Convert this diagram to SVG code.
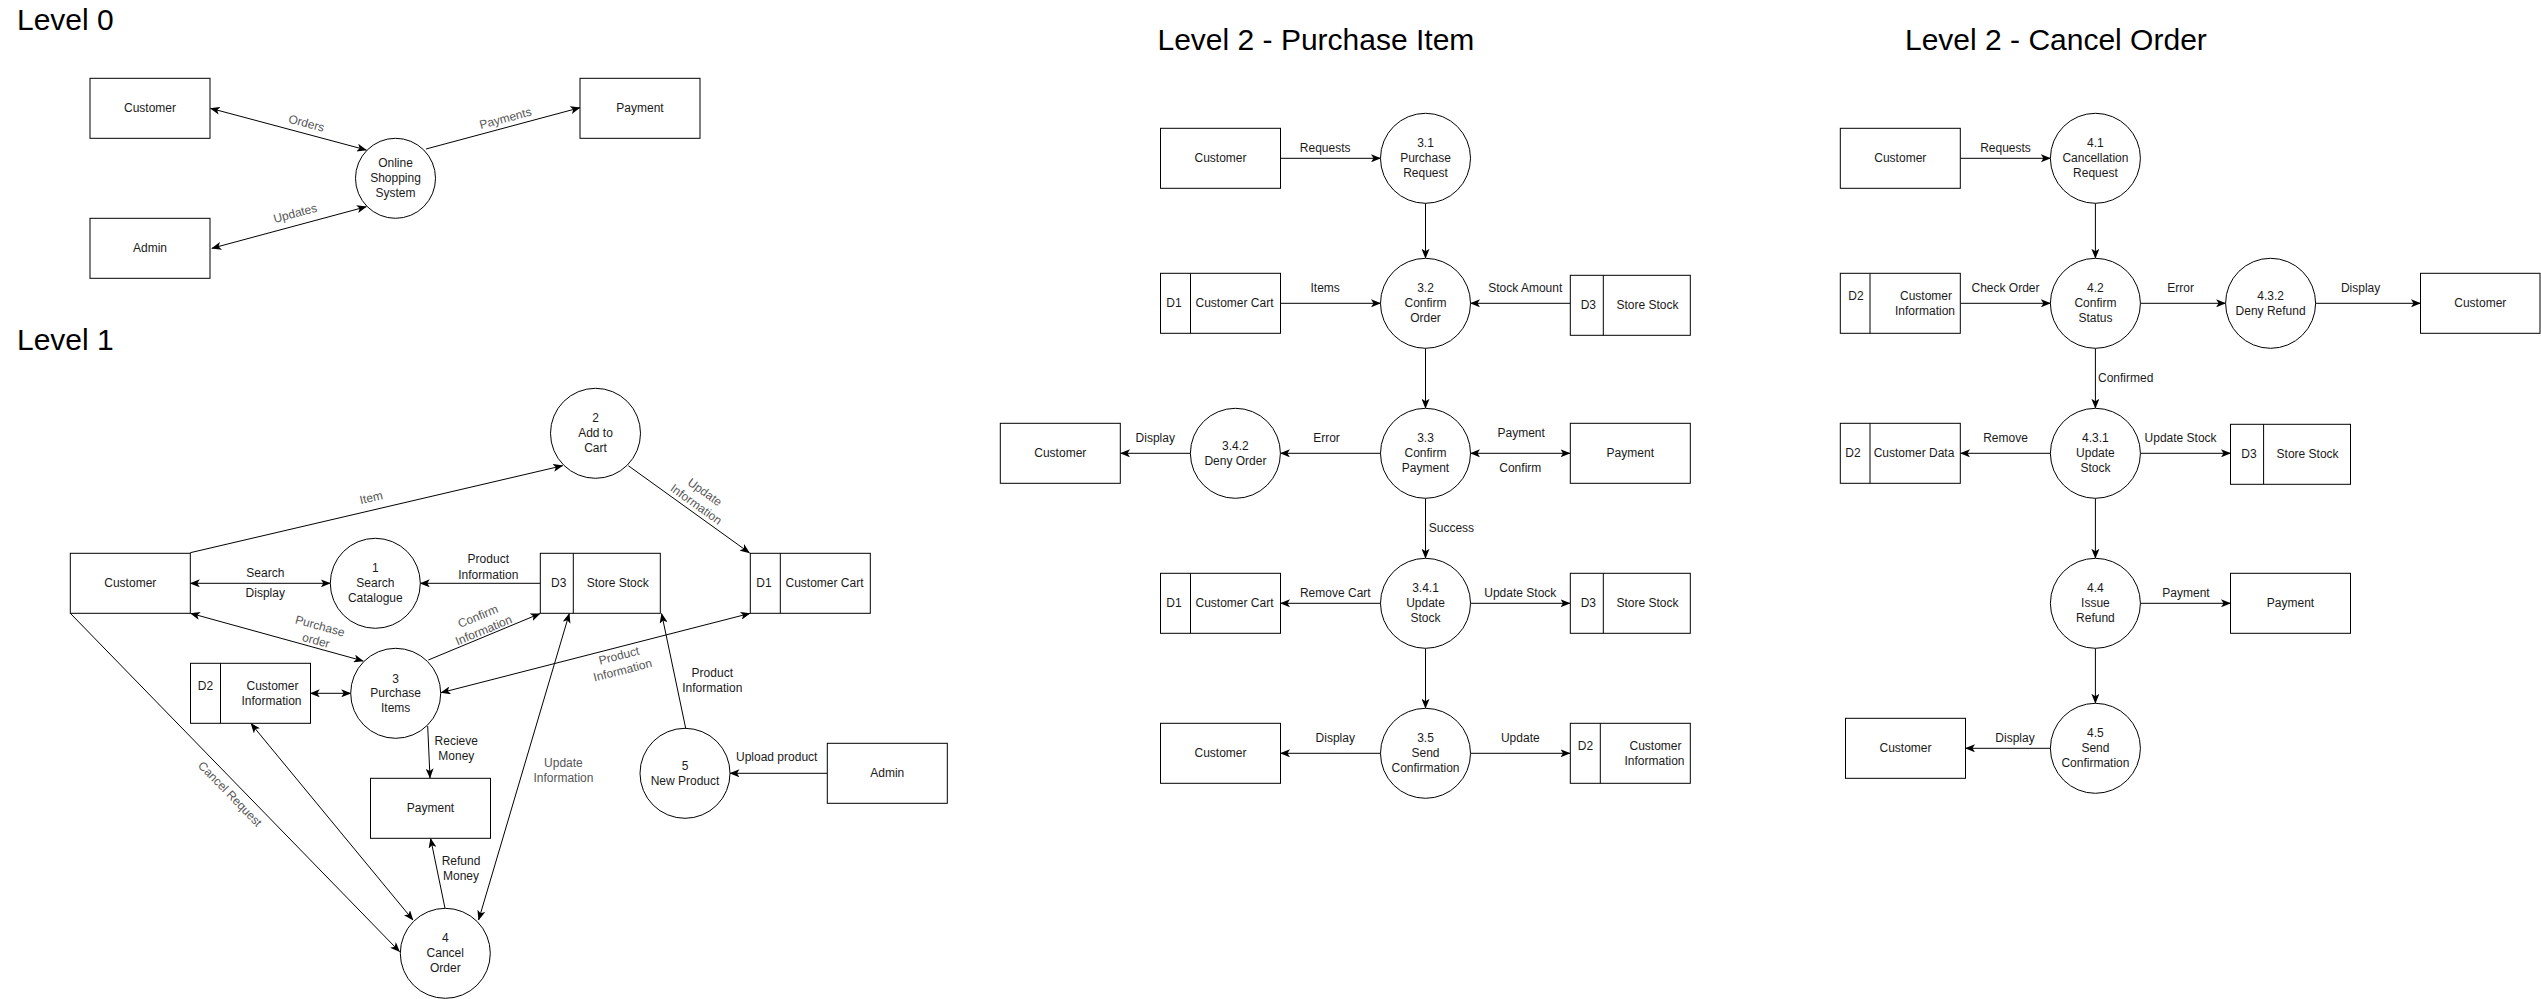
<svg xmlns="http://www.w3.org/2000/svg" width="2541" height="999" viewBox="0 0 2541 999">
<style>
.bg{fill:#fff}
.box{fill:#fff;stroke:#000;stroke-width:1}
.div{stroke:#000;stroke-width:1;fill:none}
.t{font-family:"Liberation Sans",Arial,sans-serif;font-size:12px;fill:#1a1a1a;text-anchor:middle;dominant-baseline:central}
.lb{font-family:"Liberation Sans",Arial,sans-serif;font-size:12px;fill:#1a1a1a;text-anchor:middle;dominant-baseline:central}
.gr{fill:#555}
.title{font-family:"Liberation Sans",Arial,sans-serif;font-size:30px;fill:#000}
.c{stroke:#000;stroke-width:1;fill:none;marker-end:url(#arr)}
.cd{stroke:#000;stroke-width:1;fill:none;marker-end:url(#arr);marker-start:url(#arr)}
.cn{stroke:#000;stroke-width:1;fill:none}
</style>
<defs>
<marker id="arr" viewBox="0 0 10 8" refX="9.5" refY="4" markerWidth="10" markerHeight="8" markerUnits="userSpaceOnUse" orient="auto-start-reverse">
<path d="M0,0 L10,4 L0,8 L2.5,4 Z" fill="#000"/>
</marker>
</defs>
<rect class="bg" x="0" y="0" width="2541" height="999"/>

<text class="title" x="17" y="29.5">Level 0</text>
<text class="title" x="17" y="349.5">Level 1</text>
<text class="title" x="1157.5" y="49.5">Level 2 - Purchase Item</text>
<text class="title" x="1905" y="49.5">Level 2 - Cancel Order</text>

<g id="connectors">
<!-- Level 0 -->
<line class="cd" x1="210.4" y1="108.3" x2="366.4" y2="150"/>
<line class="c" x1="426" y1="149" x2="580" y2="107.7"/>
<line class="cd" x1="211.8" y1="248.3" x2="366.4" y2="206.7"/>
<text class="lb gr" transform="translate(306.5,123.3) rotate(15)">Orders</text>
<text class="lb gr" transform="translate(505.5,118.3) rotate(-15)">Payments</text>
<text class="lb gr" transform="translate(295.2,213.3) rotate(-15)">Updates</text>

<!-- Level 1 -->
<line class="c" x1="190.3" y1="552.7" x2="562.7" y2="465.7"/>
<text class="lb gr" transform="translate(371.3,497.7) rotate(-13.2)">Item</text>
<line class="c" x1="628.3" y1="465.7" x2="749.5" y2="552.9"/>
<text class="lb gr" transform="translate(700.5,498.3) rotate(35.7)"><tspan x="0" y="-7.5">Update</tspan><tspan x="0" y="7.5">Information</tspan></text>
<line class="cd" x1="190.3" y1="583.3" x2="330.3" y2="583.3"/>
<text class="lb" x="265.3" y="572.7">Search</text>
<text class="lb" x="265.3" y="592.7">Display</text>
<line class="c" x1="540.3" y1="583.3" x2="420.3" y2="583.3"/>
<text class="lb" x="488.3" y="559.3">Product</text>
<text class="lb" x="488.3" y="574.7">Information</text>
<line class="cd" x1="190.5" y1="613.3" x2="363.3" y2="661"/>
<text class="lb gr" transform="translate(318,633.3) rotate(15.4)"><tspan x="0" y="-7.5">Purchase</tspan><tspan x="0" y="7.5">order</tspan></text>
<line class="c" x1="428.3" y1="660" x2="540" y2="613.6"/>
<text class="lb gr" transform="translate(480.8,623.3) rotate(-22.5)"><tspan x="0" y="-7.5">Confirm</tspan><tspan x="0" y="7.5">Information</tspan></text>
<line class="cd" x1="441" y1="692.7" x2="750" y2="613.4"/>
<text class="lb gr" transform="translate(620.8,663) rotate(-14.4)"><tspan x="0" y="-7.5">Product</tspan><tspan x="0" y="7.5">Information</tspan></text>
<line class="cd" x1="310.3" y1="693.3" x2="350.7" y2="693.3"/>
<line class="c" x1="427.7" y1="726" x2="430" y2="778"/>
<text class="lb" x="456.3" y="740.7">Recieve</text>
<text class="lb" x="456.3" y="756">Money</text>
<line class="c" x1="445" y1="908.3" x2="430.6" y2="838.5"/>
<text class="lb" x="461" y="860.7">Refund</text>
<text class="lb" x="461" y="875.7">Money</text>
<line class="c" x1="70.3" y1="613.3" x2="399.6" y2="951.7"/>
<text class="lb gr" transform="translate(230,794) rotate(45.8)">Cancel Request</text>
<line class="cd" x1="250.9" y1="723.5" x2="413" y2="920"/>
<line class="cd" x1="569.3" y1="613.6" x2="478.6" y2="920"/>
<text class="lb gr" x="563.4" y="763.3">Update</text>
<text class="lb gr" x="563.4" y="778.3">Information</text>
<line class="c" x1="685.7" y1="728.3" x2="661.6" y2="613.6"/>
<text class="lb" x="712.3" y="673.3">Product</text>
<text class="lb" x="712.3" y="688.3">Information</text>
<line class="c" x1="827.3" y1="773.3" x2="730" y2="773.3"/>
<text class="lb" x="776.7" y="757.3">Upload product</text>

<!-- Level 2 Purchase -->
<line class="c" x1="1280.5" y1="158.3" x2="1380.5" y2="158.3"/>
<text class="lb" x="1325.2" y="147.7">Requests</text>
<line class="c" x1="1425.5" y1="203.3" x2="1425.5" y2="258.3"/>
<line class="c" x1="1280.5" y1="303.3" x2="1380.5" y2="303.3"/>
<text class="lb" x="1325.2" y="287.7">Items</text>
<line class="c" x1="1570" y1="303.3" x2="1470.5" y2="303.3"/>
<text class="lb" x="1525.3" y="287.7">Stock Amount</text>
<line class="c" x1="1425.5" y1="348.3" x2="1425.5" y2="408.3"/>
<line class="c" x1="1380.5" y1="453.3" x2="1280.4" y2="453.3"/>
<text class="lb" x="1326.5" y="437.7">Error</text>
<line class="c" x1="1190.4" y1="453.3" x2="1120.5" y2="453.3"/>
<text class="lb" x="1155.3" y="437.7">Display</text>
<line class="cd" x1="1470.5" y1="453.3" x2="1570" y2="453.3"/>
<text class="lb" x="1521.2" y="432.7">Payment</text>
<text class="lb" x="1520.3" y="467.7">Confirm</text>
<line class="c" x1="1425.5" y1="498.3" x2="1425.5" y2="558.3"/>
<text class="lb" x="1451.4" y="527.7">Success</text>
<line class="c" x1="1380.5" y1="603.3" x2="1280.5" y2="603.3"/>
<text class="lb" x="1335.3" y="592.7">Remove Cart</text>
<line class="c" x1="1470.5" y1="603.3" x2="1570" y2="603.3"/>
<text class="lb" x="1520.3" y="592.7">Update Stock</text>
<line class="c" x1="1425.5" y1="648.3" x2="1425.5" y2="708.3"/>
<line class="c" x1="1380.5" y1="753.3" x2="1280.5" y2="753.3"/>
<text class="lb" x="1335.3" y="737.7">Display</text>
<line class="c" x1="1470.5" y1="753.3" x2="1570" y2="753.3"/>
<text class="lb" x="1520.3" y="737.7">Update</text>

<!-- Level 2 Cancel -->
<line class="c" x1="1960.5" y1="158.3" x2="2050.4" y2="158.3"/>
<text class="lb" x="2005.5" y="147.7">Requests</text>
<line class="c" x1="2095.4" y1="203.3" x2="2095.4" y2="258.3"/>
<line class="c" x1="1960.5" y1="303.3" x2="2050.4" y2="303.3"/>
<text class="lb" x="2005.5" y="287.7">Check Order</text>
<line class="c" x1="2140.4" y1="303.3" x2="2225.6" y2="303.3"/>
<text class="lb" x="2180.6" y="287.7">Error</text>
<line class="c" x1="2315.6" y1="303.3" x2="2420.5" y2="303.3"/>
<text class="lb" x="2360.6" y="287.7">Display</text>
<line class="c" x1="2095.4" y1="348.3" x2="2095.4" y2="408.3"/>
<text class="lb" x="2125.7" y="377.7">Confirmed</text>
<line class="c" x1="2050.4" y1="453.3" x2="1960.5" y2="453.3"/>
<text class="lb" x="2005.5" y="437.7">Remove</text>
<line class="c" x1="2140.4" y1="453.3" x2="2230.5" y2="453.3"/>
<text class="lb" x="2180.6" y="437.7">Update Stock</text>
<line class="c" x1="2095.4" y1="498.3" x2="2095.4" y2="558.3"/>
<line class="c" x1="2140.4" y1="603.3" x2="2230.5" y2="603.3"/>
<text class="lb" x="2186" y="592.7">Payment</text>
<line class="c" x1="2095.4" y1="648.3" x2="2095.4" y2="703.3"/>
<line class="c" x1="2050.4" y1="748.3" x2="1965.5" y2="748.3"/>
<text class="lb" x="2015" y="737.7">Display</text>
</g>

<!-- Level 0 nodes -->
<g id="l0-customer"><rect class="box" x="90" y="78.3" width="120" height="60"/><text class="t" x="150" y="108.3">Customer</text></g>
<g id="l0-payment"><rect class="box" x="580" y="78.3" width="120" height="60"/><text class="t" x="640" y="108.3">Payment</text></g>
<g id="l0-admin"><rect class="box" x="90" y="218.3" width="120" height="60"/><text class="t" x="150" y="248.3">Admin</text></g>
<g id="l0-oss"><circle class="box" cx="395.5" cy="178.3" r="40"/><text class="t" x="395.5" y="163.3">Online</text><text class="t" x="395.5" y="178.3">Shopping</text><text class="t" x="395.5" y="193.3">System</text></g>

<!-- Level 1 nodes -->
<g id="l1-customer"><rect class="box" x="70.3" y="553.3" width="120" height="60"/><text class="t" x="130.3" y="583.3">Customer</text></g>
<g id="l1-p1"><circle class="box" cx="375.3" cy="583.3" r="45"/><text class="t" x="375.3" y="568.3">1</text><text class="t" x="375.3" y="583.3">Search</text><text class="t" x="375.3" y="598.3">Catalogue</text></g>
<g id="l1-p2"><circle class="box" cx="595.5" cy="433.3" r="45"/><text class="t" x="595.5" y="418.3">2</text><text class="t" x="595.5" y="433.3">Add to</text><text class="t" x="595.5" y="448.3">Cart</text></g>
<g id="l1-d3"><rect class="box" x="540.3" y="553.3" width="120" height="60"/><line class="div" x1="573.3" y1="553.3" x2="573.3" y2="613.3"/><text class="t" x="558.7" y="583.3">D3</text><text class="t" x="617.7" y="583.3">Store Stock</text></g>
<g id="l1-d1"><rect class="box" x="750.3" y="553.3" width="120" height="60"/><line class="div" x1="780.3" y1="553.3" x2="780.3" y2="613.3"/><text class="t" x="764" y="583.3">D1</text><text class="t" x="824.5" y="583.3">Customer Cart</text></g>
<g id="l1-d2"><rect class="box" x="190.5" y="663.3" width="120" height="60"/><line class="div" x1="220.5" y1="663.3" x2="220.5" y2="723.3"/><text class="t" x="205.5" y="685.8">D2</text><text class="t" x="272.5" y="685.8">Customer</text><text class="t" x="271.5" y="700.8">Information</text></g>
<g id="l1-p3"><circle class="box" cx="395.7" cy="693.3" r="45"/><text class="t" x="395.7" y="678.8">3</text><text class="t" x="395.7" y="693.3">Purchase</text><text class="t" x="395.7" y="708.3">Items</text></g>
<g id="l1-payment"><rect class="box" x="370.5" y="778.3" width="120" height="60"/><text class="t" x="430.5" y="808.3">Payment</text></g>
<g id="l1-p4"><circle class="box" cx="445.3" cy="953.3" r="45"/><text class="t" x="445.3" y="938.3">4</text><text class="t" x="445.3" y="953.3">Cancel</text><text class="t" x="445.3" y="968.3">Order</text></g>
<g id="l1-p5"><circle class="box" cx="685" cy="773.3" r="45"/><text class="t" x="685" y="765.8">5</text><text class="t" x="685" y="780.8">New Product</text></g>
<g id="l1-admin"><rect class="box" x="827.3" y="743.3" width="120" height="60"/><text class="t" x="887.3" y="773.3">Admin</text></g>

<!-- Level 2 Purchase nodes -->
<g id="pi-customer1"><rect class="box" x="1160.5" y="128.3" width="120" height="60"/><text class="t" x="1220.5" y="158.3">Customer</text></g>
<g id="pi-31"><circle class="box" cx="1425.5" cy="158.3" r="45"/><text class="t" x="1425.5" y="143.3">3.1</text><text class="t" x="1425.5" y="158.3">Purchase</text><text class="t" x="1425.5" y="173.3">Request</text></g>
<g id="pi-d1a"><rect class="box" x="1160.5" y="273.3" width="120" height="60"/><line class="div" x1="1190.5" y1="273.3" x2="1190.5" y2="333.3"/><text class="t" x="1174" y="303.3">D1</text><text class="t" x="1234.5" y="303.3">Customer Cart</text></g>
<g id="pi-32"><circle class="box" cx="1425.5" cy="303.3" r="45"/><text class="t" x="1425.5" y="288.3">3.2</text><text class="t" x="1425.5" y="303.3">Confirm</text><text class="t" x="1425.5" y="318.3">Order</text></g>
<g id="pi-d3a"><rect class="box" x="1570.3" y="275.3" width="120" height="60"/><line class="div" x1="1603.3" y1="275.3" x2="1603.3" y2="335.3"/><text class="t" x="1588.3" y="305.3">D3</text><text class="t" x="1647.5" y="305.3">Store Stock</text></g>
<g id="pi-33"><circle class="box" cx="1425.5" cy="453.3" r="45"/><text class="t" x="1425.5" y="438.3">3.3</text><text class="t" x="1425.5" y="453.3">Confirm</text><text class="t" x="1425.5" y="468.3">Payment</text></g>
<g id="pi-customer2"><rect class="box" x="1000.3" y="423.3" width="120" height="60"/><text class="t" x="1060.3" y="453.3">Customer</text></g>
<g id="pi-342"><circle class="box" cx="1235.4" cy="453.3" r="45"/><text class="t" x="1235.4" y="445.8">3.4.2</text><text class="t" x="1235.4" y="460.8">Deny Order</text></g>
<g id="pi-payment"><rect class="box" x="1570.3" y="423.3" width="120" height="60"/><text class="t" x="1630.3" y="453.3">Payment</text></g>
<g id="pi-341"><circle class="box" cx="1425.5" cy="603.3" r="45"/><text class="t" x="1425.5" y="588.3">3.4.1</text><text class="t" x="1425.5" y="603.3">Update</text><text class="t" x="1425.5" y="618.3">Stock</text></g>
<g id="pi-d1b"><rect class="box" x="1160.5" y="573.3" width="120" height="60"/><line class="div" x1="1190.5" y1="573.3" x2="1190.5" y2="633.3"/><text class="t" x="1174" y="603.3">D1</text><text class="t" x="1234.5" y="603.3">Customer Cart</text></g>
<g id="pi-d3b"><rect class="box" x="1570.3" y="573.3" width="120" height="60"/><line class="div" x1="1603.3" y1="573.3" x2="1603.3" y2="633.3"/><text class="t" x="1588.3" y="603.3">D3</text><text class="t" x="1647.5" y="603.3">Store Stock</text></g>
<g id="pi-35"><circle class="box" cx="1425.5" cy="753.3" r="45"/><text class="t" x="1425.5" y="738.3">3.5</text><text class="t" x="1425.5" y="753.3">Send</text><text class="t" x="1425.5" y="768.3">Confirmation</text></g>
<g id="pi-customer3"><rect class="box" x="1160.5" y="723.3" width="120" height="60"/><text class="t" x="1220.5" y="753.3">Customer</text></g>
<g id="pi-d2"><rect class="box" x="1570.3" y="723.3" width="120" height="60"/><line class="div" x1="1600.3" y1="723.3" x2="1600.3" y2="783.3"/><text class="t" x="1585.5" y="745.8">D2</text><text class="t" x="1655.5" y="745.8">Customer</text><text class="t" x="1654.5" y="760.8">Information</text></g>

<!-- Level 2 Cancel nodes -->
<g id="co-customer1"><rect class="box" x="1840.3" y="128.3" width="120" height="60"/><text class="t" x="1900.3" y="158.3">Customer</text></g>
<g id="co-41"><circle class="box" cx="2095.4" cy="158.3" r="45"/><text class="t" x="2095.4" y="143.3">4.1</text><text class="t" x="2095.4" y="158.3">Cancellation</text><text class="t" x="2095.4" y="173.3">Request</text></g>
<g id="co-d2a"><rect class="box" x="1840.3" y="273.3" width="120" height="60"/><line class="div" x1="1870" y1="273.3" x2="1870" y2="333.3"/><text class="t" x="1856" y="295.8">D2</text><text class="t" x="1926" y="295.8">Customer</text><text class="t" x="1925" y="310.8">Information</text></g>
<g id="co-42"><circle class="box" cx="2095.4" cy="303.3" r="45"/><text class="t" x="2095.4" y="288.3">4.2</text><text class="t" x="2095.4" y="303.3">Confirm</text><text class="t" x="2095.4" y="318.3">Status</text></g>
<g id="co-432"><circle class="box" cx="2270.6" cy="303.3" r="45"/><text class="t" x="2270.6" y="295.8">4.3.2</text><text class="t" x="2270.6" y="310.8">Deny Refund</text></g>
<g id="co-customer2"><rect class="box" x="2420.5" y="273.3" width="119.5" height="60"/><text class="t" x="2480.3" y="303.3">Customer</text></g>
<g id="co-431"><circle class="box" cx="2095.4" cy="453.3" r="45"/><text class="t" x="2095.4" y="438.3">4.3.1</text><text class="t" x="2095.4" y="453.3">Update</text><text class="t" x="2095.4" y="468.3">Stock</text></g>
<g id="co-d2b"><rect class="box" x="1840.3" y="423.3" width="120" height="60"/><line class="div" x1="1870" y1="423.3" x2="1870" y2="483.3"/><text class="t" x="1853" y="453.3">D2</text><text class="t" x="1914" y="453.3">Customer Data</text></g>
<g id="co-d3"><rect class="box" x="2230.5" y="424.3" width="120" height="60"/><line class="div" x1="2263.6" y1="424.3" x2="2263.6" y2="484.3"/><text class="t" x="2249" y="454.3">D3</text><text class="t" x="2307.6" y="454.3">Store Stock</text></g>
<g id="co-44"><circle class="box" cx="2095.4" cy="603.3" r="45"/><text class="t" x="2095.4" y="588.3">4.4</text><text class="t" x="2095.4" y="603.3">Issue</text><text class="t" x="2095.4" y="618.3">Refund</text></g>
<g id="co-payment"><rect class="box" x="2230.5" y="573.3" width="120" height="60"/><text class="t" x="2290.5" y="603.3">Payment</text></g>
<g id="co-45"><circle class="box" cx="2095.4" cy="748.3" r="45"/><text class="t" x="2095.4" y="733.3">4.5</text><text class="t" x="2095.4" y="748.3">Send</text><text class="t" x="2095.4" y="763.3">Confirmation</text></g>
<g id="co-customer3"><rect class="box" x="1845.5" y="718.3" width="120" height="60"/><text class="t" x="1905.5" y="748.3">Customer</text></g>
</svg>
